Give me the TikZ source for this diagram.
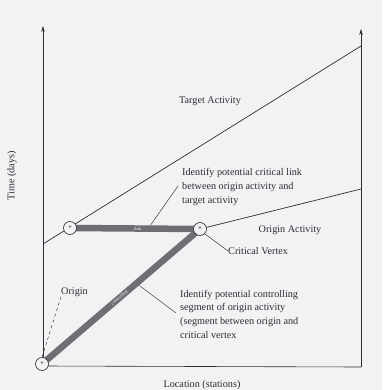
\documentclass[tikz,border=0pt]{standalone}
\usepackage{fontspec}
\setmainfont{Liberation Serif}
\usetikzlibrary{calc,arrows.meta}
\definecolor{paper}{RGB}{242,241,243}
\definecolor{ink}{RGB}{45,45,50}
\definecolor{barc}{RGB}{110,110,115}
\tikzset{
  x=1pt,y=-1pt,
  axisline/.style={draw=ink,line width=0.6pt},
  actline/.style={draw=ink,line width=0.7pt},
  barline/.style={draw=barc,line width=6.5pt},
  leader/.style={draw=ink,line width=0.45pt},
  vertex/.style={circle,draw=ink,fill=paper,line width=0.6pt,minimum size=13pt,inner sep=0pt,font=\fontsize{7}{7}\selectfont},
  lbl/.style={text=ink,font=\fontsize{10.2}{13.6}\selectfont,inner sep=0pt},
  barlbl/.style={text=white,font=\fontsize{4.5}{4.5}\selectfont,inner sep=0pt},
  tip/.style={-{Stealth[length=6pt,width=3.5pt]}}
}
\begin{document}
\begin{tikzpicture}
\fill[paper] (0,0) rectangle (382,390);
\useasboundingbox (0,0) rectangle (382,390);
% axes
\coordinate (bl) at (43,366);
\coordinate (tl) at (43,26);
\coordinate (br) at (361,367);
\coordinate (tr) at (361,29);
\draw[axisline,tip] (bl) -- (tl);
\draw[axisline] (bl) -- (br);
\draw[axisline,tip] (br) -- (tr);
% activity lines
\coordinate (tgtA) at (43,244);
\coordinate (tgtB) at (361,46);
\coordinate (oriB) at (361,189);
\draw[actline] (tgtA) -- (tgtB);
% vertices positions
\coordinate (p0) at (42,364);
\coordinate (p1) at (70,228);
\coordinate (p2) at (200,229);
\draw[actline] (p2) -- (oriB);
% bars
\draw[barline] (p1) -- node[barlbl,pos=0.52]{link} (p2);
\draw[barline] (p0) -- node[barlbl,pos=0.49,sloped]{controlling} (p2);
% vertices
\node[vertex] (orig) at (p0) {+};
\node[vertex] (lnode) at (p1) {+};
\node[vertex] (cv) at (p2) {+};
% labels
\node[lbl] (tgtlbl) at (210,101) {Target Activity};
\node[lbl] (orilbl) at (290,230) {Origin Activity};
\node[lbl,anchor=west] (cvlbl) at (228,251) {Critical Vertex};
\node[lbl,anchor=west] (origlbl) at (61,292) {Origin};
\node[lbl,anchor=base west,align=left] (linktxt) at (182,203) {Identify potential critical link\\between origin activity and\\target activity};
\node[lbl,anchor=base west,align=left] (ctrltxt) at (180,338) {Identify potential controlling\\segment of origin activity\\(segment between origin and\\critical vertex};
\node[lbl,rotate=90] (ylbl) at (12,176) {Time (days)};
\node[lbl] (xlbl) at (202,385) {Location (stations)};
% leaders
\coordinate (lkend) at ($(lnode)!0.62!(cv)+(0,-3.5)$);
\coordinate (lkstart) at (178,186);
\draw[leader] (lkstart) -- (lkend);
\coordinate (ctend) at ($(orig)!0.6!(cv)+(2.5,2.5)$);
\coordinate (ctstart) at (176,313);
\draw[leader] (ctstart) -- (ctend);
\draw[leader] (cv.south east) -- (cvlbl.west);
\draw[leader,dashed] (origlbl.south west) -- (orig.north);
\end{tikzpicture}
\end{document}
